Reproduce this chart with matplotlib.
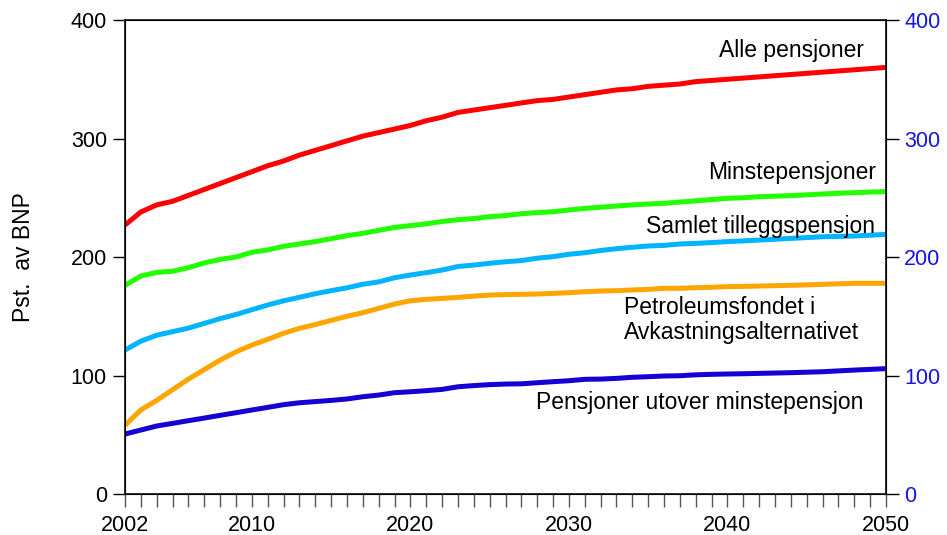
import matplotlib
matplotlib.use("Agg")
import matplotlib.pyplot as plt
from matplotlib.ticker import MultipleLocator

plt.rcParams["font.family"] = ["Liberation Sans", "DejaVu Sans"]

years = list(range(2002, 2051))

alle = [227, 238, 244, 247, 252, 257, 262, 267, 272, 277,
        281, 286, 290, 294, 298, 302, 305, 308, 311, 315,
        318, 322, 324, 326, 328, 330, 332, 333, 335, 337,
        339, 341, 342, 344, 345, 346, 348, 349, 350, 351,
        352, 353, 354, 355, 356, 357, 358, 359, 360]
minste = [176, 184, 187, 188, 191, 195, 198, 200, 204, 206,
          209, 211, 213, 215.5, 218, 220, 222.5, 225, 226.5, 228,
          230, 231.5, 232.5, 234, 235, 236.5, 237.5, 238.2, 239.7, 241,
          242, 243, 244, 244.7, 245.3, 246.4, 247.4, 248.5, 249.5, 250,
          250.9, 251.4, 251.8, 252.5, 253.2, 253.8, 254.3, 254.8, 255.2]
tillegg = [121.5, 129, 134, 137, 140, 144, 148, 151.5, 155.5, 159.5,
           163, 166, 169, 171.6, 174, 177, 179, 182.5, 184.8, 186.8,
           189, 192, 193.2, 194.7, 196, 197, 199, 200.3, 202.3, 203.6,
           205.5, 207, 208.2, 209.3, 209.8, 211, 211.5, 212.2, 213, 213.6,
           214.3, 215, 215.7, 216.4, 217.1, 217.4, 217.7, 218.4, 219.1]
petro = [58, 71, 79, 88, 97, 105, 113, 120, 125.7, 130.5,
         135.6, 139.8, 143, 146.5, 150, 153, 156.7, 160.3, 163.1, 164.3,
         165.1, 165.9, 167, 167.9, 168.3, 168.5, 168.8, 169.3, 169.9, 170.7,
         171.3, 171.6, 172.2, 172.7, 173.6, 173.6, 174.1, 174.5, 175, 175.2,
         175.5, 175.8, 176.1, 176.5, 176.9, 177.4, 177.8, 177.8, 177.8]
utover = [50.6, 54, 57.4, 59.6, 61.9, 64.1, 66.4, 68.6, 70.9, 73.1,
          75.4, 77, 78, 79, 80.2, 82.1, 83.5, 85.5, 86.3, 87.2,
          88.3, 90.5, 91.5, 92.3, 92.8, 93, 93.9, 94.8, 95.6, 96.8,
          97, 97.6, 98.5, 99, 99.6, 99.8, 100.6, 101, 101.3, 101.5,
          101.8, 102.1, 102.4, 102.8, 103.2, 103.9, 104.6, 105.2, 105.8]

xtick_years = [2002, 2010, 2020, 2030, 2040, 2050]
ytick_vals = [0, 100, 200, 300, 400]

series = [
    (alle, "#ff0000"),
    (minste, "#22ff00"),
    (tillegg, "#00b4ff"),
    (petro, "#ffa500"),
    (utover, "#1400d2"),
]

fig = plt.figure(figsize=(9.47, 5.35), dpi=100)
ax = fig.add_axes([0.132, 0.0766, 0.8036, 0.886])

for vals, col in series:
    ax.plot(years, vals, color=col, lw=3.6, solid_capstyle="butt")

ax.set_xlim(2002, 2050)
ax.set_ylim(0, 400)
ax.set_xticks(xtick_years)
ax.xaxis.set_minor_locator(MultipleLocator(1))
ax.set_yticks(ytick_vals)

fs = 15.5   # tick labels
fl = 16.5   # annotations / axis label
ax.tick_params(axis="x", which="both", direction="out", length=9, width=1,
               color="#555555", labelsize=fs, pad=6)
ax.tick_params(axis="y", direction="out", length=9, width=1, labelsize=fs,
               pad=4)
for sp in ax.spines.values():
    sp.set_linewidth(1.3)
    sp.set_color("#222222")

ax.set_ylabel("Pst.  av BNP", fontsize=fl, labelpad=26)

ax2 = ax.twinx()
ax2.set_ylim(0, 400)
ax2.set_yticks(ytick_vals)
ax2.tick_params(axis="y", direction="out", length=9, width=1, labelsize=fs,
                labelcolor="#1414e6", pad=4)

ax.text(2048.6, 374.5, "Alle pensjoner", fontsize=fl, ha="right", va="center")
ax.text(2049.4, 271, "Minstepensjoner", fontsize=fl, ha="right", va="center")
ax.text(2049.3, 226, "Samlet tilleggspensjon", fontsize=fl, ha="right",
        va="center")
ax.text(2033.5, 147, "Petroleumsfondet i\nAvkastningsalternativet",
        fontsize=fl, ha="left", va="center", linespacing=1.1)
ax.text(2027.9, 77, "Pensjoner utover minstepensjon", fontsize=fl,
        ha="left", va="center")

fig.savefig("out.png", dpi=100)
